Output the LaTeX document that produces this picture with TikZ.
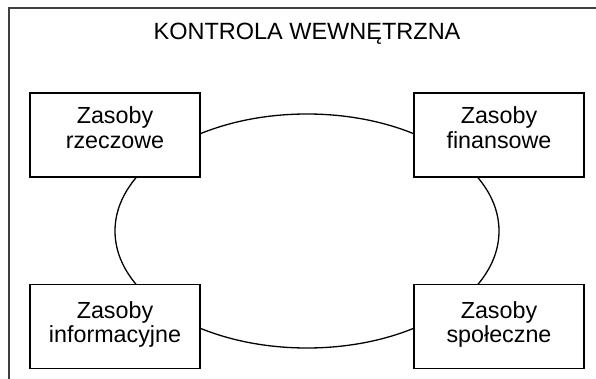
\documentclass[tikz,border=0pt]{standalone}
\usepackage{fontspec}
\setmainfont{Liberation Sans}
\usetikzlibrary{shapes.geometric}
\newcommand{\lowpad}[1]{\rule[-#1]{0pt}{#1}}
\tikzset{
  resbox/.style={draw=black, line width=1.5pt, fill=white, minimum width=170pt, minimum height=84pt,
    inner sep=0pt, align=center, font=\fontsize{23.3pt}{24.7pt}\selectfont},
  ring/.style={draw=black, line width=1.3pt, ellipse, minimum width=384pt, minimum height=234pt, inner sep=0pt},
  frame/.style={draw=black!75, line width=1.5pt},
  titletext/.style={font=\fontsize{23.5pt}{26pt}\selectfont, inner sep=0pt, anchor=base}
}
\begin{document}
\begin{tikzpicture}[x=1pt, y=-1pt]
\useasboundingbox (0,0) rectangle (596,379);
\coordinate (fbl) at (9,379);
\coordinate (ftl) at (9,8);
\coordinate (ftr) at (596,8);
\draw[frame] (fbl) -- (ftl) -- (ftr);
\node[titletext] (title) at (307,40) {KONTROLA WEWNĘTRZNA};
\node[ring] (cycle) at (307,231) {};
\node[resbox] (rz) at (115,135) {Zasoby\\rzeczowe\lowpad{14.3pt}};
\node[resbox] (fi) at (499,135) {Zasoby\\finansowe\lowpad{14.3pt}};
\node[resbox] (in) at (115,326.5) {Zasoby\\informacyjne\lowpad{8.7pt}};
\node[resbox] (sp) at (499,326.5) {Zasoby\\społeczne\lowpad{8.7pt}};
\end{tikzpicture}
\end{document}
